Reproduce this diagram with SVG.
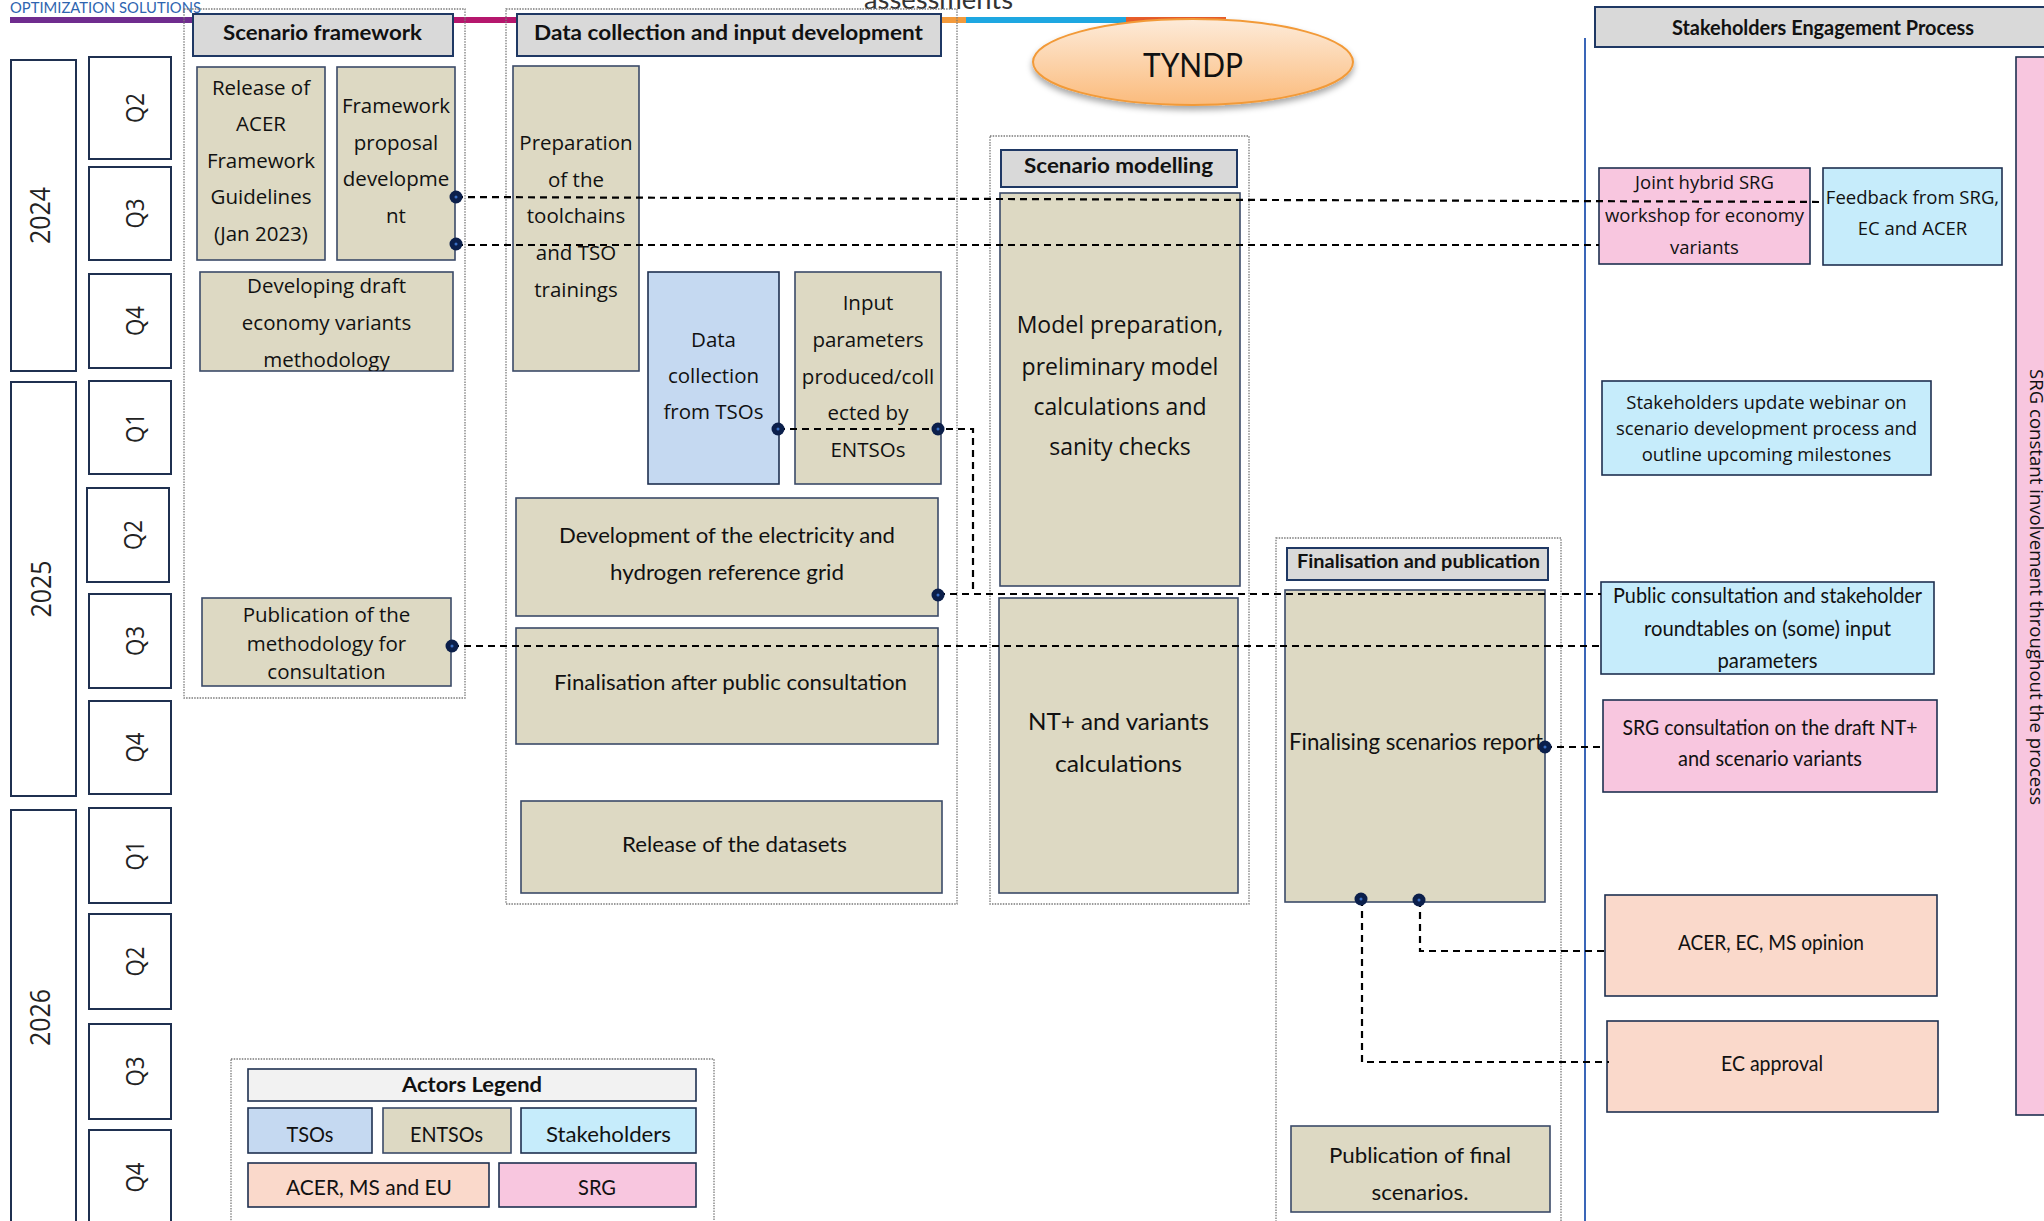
<svg xmlns="http://www.w3.org/2000/svg" width="2044" height="1221" viewBox="0 0 2044 1221">
<defs>
<style>
.yr{fill:#fff;stroke:#1f3050;stroke-width:2}
.tan{fill:#ddd9c3;stroke:#3b4a68;stroke-width:1.6}
.tso{fill:#c5d9f1;stroke:#1f3050;stroke-width:1.6}
.stk{fill:#c6ecfb;stroke:#1f3050;stroke-width:1.6}
.srg{fill:#f8c6df;stroke:#1f3050;stroke-width:1.6}
.acer{fill:#fad9cb;stroke:#1f3050;stroke-width:1.6}
.hdr{fill:#d9d9d9;stroke:#1f3864;stroke-width:2}
.cont{fill:none;stroke:#7a7a7a;stroke-width:1.3;stroke-dasharray:1.5 1.2}
.conn{fill:none;stroke:#000;stroke-width:2.2;stroke-dasharray:7 5}
.dot{fill:#0b1f4b}
.dotc{fill:#3a6fc4}
.os{font-family:'Open Sans','Noto Sans',sans-serif;fill:#111;text-anchor:middle}
.lt{font-family:Lato,'Open Sans',sans-serif;fill:#111;text-anchor:middle}
.b{font-weight:bold}
.yt{font-family:'Open Sans','Noto Sans',sans-serif;fill:#222;text-anchor:middle}
</style>
<linearGradient id="tyg" x1="0" y1="0" x2="0" y2="1">
<stop offset="0" stop-color="#fdebd9"/>
<stop offset="1" stop-color="#fbbb7c"/>
</linearGradient>
<filter id="sh" x="-20%" y="-30%" width="140%" height="170%">
<feDropShadow dx="0" dy="4" stdDeviation="3" flood-color="#000" flood-opacity="0.35"/>
</filter>
<clipPath id="clipDev"><rect x="200" y="272" width="253" height="99"/></clipPath>
</defs>
<rect width="2044" height="1221" fill="#fff"/>

<!-- top band -->
<g id="topband">
<text x="10" y="13" font-family="Lato,'Open Sans',sans-serif" font-size="15" fill="#2e64b0" textLength="191" lengthAdjust="spacingAndGlyphs">OPTIMIZATION SOLUTIONS</text>
<text x="864" y="9" font-family="Lato,'Open Sans',sans-serif" font-size="26" fill="#333" textLength="149" lengthAdjust="spacingAndGlyphs">assessments</text>
<rect x="10" y="17" width="320" height="6" fill="#6f2c8e"/>
<rect x="330" y="17" width="390" height="6" fill="#b5176d"/>
<rect x="720" y="17" width="246" height="6" fill="#f39a3b"/>
<rect x="966" y="17" width="160" height="6" fill="#1ea7e1"/>
<rect x="1126" y="17" width="100" height="6" fill="#e85d2a"/>
</g>

<!-- containers -->
<g id="containers">
<rect class="cont" x="184" y="9" width="281" height="689"/>
<rect class="cont" x="506" y="9" width="451" height="895"/>
<rect class="cont" x="990" y="136" width="259" height="768"/>
<rect class="cont" x="1276" y="538" width="285" height="690"/>
<rect class="cont" x="231" y="1059" width="483" height="170"/>
</g>

<line x1="1585" y1="38" x2="1585" y2="1221" stroke="#3a66b8" stroke-width="2"/>

<!-- timeline -->
<g id="year-2024"><rect class="yr" x="11" y="60" width="65" height="311"/><text class="yt" font-size="27" textLength="57" lengthAdjust="spacingAndGlyphs" transform="translate(50,215.5) rotate(-90)">2024</text></g>
<g id="year-2025"><rect class="yr" x="11" y="382" width="65" height="414"/><text class="yt" font-size="27" textLength="57" lengthAdjust="spacingAndGlyphs" transform="translate(51,589) rotate(-90)">2025</text></g>
<g id="year-2026"><rect class="yr" x="11" y="810" width="65" height="415"/><text class="yt" font-size="27" textLength="57" lengthAdjust="spacingAndGlyphs" transform="translate(50,1017.5) rotate(-90)">2026</text></g>

<g id="q-2024-2"><rect class="yr" x="89" y="57" width="82" height="102"/><text class="yt" font-size="25" textLength="30" lengthAdjust="spacingAndGlyphs" transform="translate(144,108) rotate(-90)">Q2</text></g>
<g id="q-2024-3"><rect class="yr" x="89" y="167" width="82" height="93"/><text class="yt" font-size="25" textLength="30" lengthAdjust="spacingAndGlyphs" transform="translate(144,213.5) rotate(-90)">Q3</text></g>
<g id="q-2024-4"><rect class="yr" x="89" y="274" width="82" height="94"/><text class="yt" font-size="25" textLength="30" lengthAdjust="spacingAndGlyphs" transform="translate(144,321) rotate(-90)">Q4</text></g>
<g id="q-2025-1"><rect class="yr" x="89" y="381" width="82" height="93"/><text class="yt" font-size="25" textLength="30" lengthAdjust="spacingAndGlyphs" transform="translate(144,428) rotate(-90)">Q1</text></g>
<g id="q-2025-2"><rect class="yr" x="87" y="488" width="82" height="94"/><text class="yt" font-size="25" textLength="30" lengthAdjust="spacingAndGlyphs" transform="translate(142,535) rotate(-90)">Q2</text></g>
<g id="q-2025-3"><rect class="yr" x="89" y="594" width="82" height="94"/><text class="yt" font-size="25" textLength="30" lengthAdjust="spacingAndGlyphs" transform="translate(144,641) rotate(-90)">Q3</text></g>
<g id="q-2025-4"><rect class="yr" x="89" y="701" width="82" height="93"/><text class="yt" font-size="25" textLength="30" lengthAdjust="spacingAndGlyphs" transform="translate(144,747.5) rotate(-90)">Q4</text></g>
<g id="q-2026-1"><rect class="yr" x="89" y="808" width="82" height="95"/><text class="yt" font-size="25" textLength="30" lengthAdjust="spacingAndGlyphs" transform="translate(144,855.5) rotate(-90)">Q1</text></g>
<g id="q-2026-2"><rect class="yr" x="89" y="914" width="82" height="95"/><text class="yt" font-size="25" textLength="30" lengthAdjust="spacingAndGlyphs" transform="translate(144,961.5) rotate(-90)">Q2</text></g>
<g id="q-2026-3"><rect class="yr" x="89" y="1024" width="82" height="95"/><text class="yt" font-size="25" textLength="30" lengthAdjust="spacingAndGlyphs" transform="translate(144,1071.5) rotate(-90)">Q3</text></g>
<g id="q-2026-4"><rect class="yr" x="89" y="1130" width="82" height="95"/><text class="yt" font-size="25" textLength="30" lengthAdjust="spacingAndGlyphs" transform="translate(144,1177.5) rotate(-90)">Q4</text></g>

<!-- headers -->
<g id="hdr-scenario-framework"><rect class="hdr" x="193" y="14" width="260" height="42"/><text class="lt b" x="322.5" y="40" font-size="21" textLength="199" lengthAdjust="spacingAndGlyphs">Scenario framework</text></g>
<g id="hdr-data-collection"><rect class="hdr" x="517" y="14" width="424" height="42"/><text class="lt b" x="728.5" y="40" font-size="21" textLength="389" lengthAdjust="spacingAndGlyphs">Data collection and input development</text></g>
<g id="hdr-scenario-modelling"><rect class="hdr" x="1001" y="150" width="236" height="37"/><text class="lt b" x="1118.5" y="173" font-size="21" textLength="189" lengthAdjust="spacingAndGlyphs">Scenario modelling</text></g>
<g id="hdr-finalisation"><rect class="hdr" x="1287" y="548" width="261" height="32"/><text class="lt b" x="1418.5" y="568" font-size="19" textLength="243" lengthAdjust="spacingAndGlyphs">Finalisation and publication</text></g>
<g id="hdr-stakeholders"><rect class="hdr" x="1595" y="7" width="455" height="40"/><text class="lt b" x="1823" y="35" font-size="20" textLength="302" lengthAdjust="spacingAndGlyphs">Stakeholders Engagement Process</text></g>

<!-- TYNDP -->
<g id="tyndp">
<ellipse cx="1193" cy="62" rx="160" ry="43" fill="url(#tyg)" stroke="#f29a38" stroke-width="2" filter="url(#sh)"/>
<text class="lt" x="1193" y="77" font-size="32" fill="#262626" textLength="100" lengthAdjust="spacingAndGlyphs">TYNDP</text>
</g>

<!-- scenario framework nodes -->
<g id="release-acer"><rect class="tan" x="197" y="67" width="128" height="193"/>
<text class="os" font-size="20.5"><tspan x="261" y="95">Release of</tspan><tspan x="261" y="131">ACER</tspan><tspan x="261" y="168">Framework</tspan><tspan x="261" y="204">Guidelines</tspan><tspan x="261" y="241">(Jan 2023)</tspan></text></g>
<g id="framework-proposal"><rect class="tan" x="337" y="67" width="118" height="193"/>
<text class="os" font-size="20.5"><tspan x="396" y="113">Framework</tspan><tspan x="396" y="150">proposal</tspan><tspan x="396" y="186">developme</tspan><tspan x="396" y="223">nt</tspan></text></g>
<g id="developing-draft"><rect class="tan" x="200" y="272" width="253" height="99"/>
<text class="os" font-size="20.5" clip-path="url(#clipDev)"><tspan x="326.5" y="293">Developing draft</tspan><tspan x="326.5" y="330">economy variants</tspan><tspan x="326.5" y="367">methodology</tspan></text></g>
<g id="publication-methodology"><rect class="tan" x="202" y="598" width="249" height="88"/>
<text class="os" font-size="20.5"><tspan x="326.5" y="622">Publication of the</tspan><tspan x="326.5" y="651">methodology for</tspan><tspan x="326.5" y="679">consultation</tspan></text></g>

<!-- data collection nodes -->
<g id="preparation"><rect class="tan" x="513" y="66" width="126" height="305"/>
<text class="os" font-size="20.5"><tspan x="576" y="150">Preparation</tspan><tspan x="576" y="187">of the</tspan><tspan x="576" y="223">toolchains</tspan><tspan x="576" y="260">and TSO</tspan><tspan x="576" y="297">trainings</tspan></text></g>
<g id="data-collection-tsos"><rect class="tso" x="648" y="272" width="131" height="212"/>
<text class="os" font-size="20.5"><tspan x="713.5" y="347">Data</tspan><tspan x="713.5" y="383">collection</tspan><tspan x="713.5" y="419">from TSOs</tspan></text></g>
<g id="input-parameters"><rect class="tan" x="795" y="272" width="146" height="212"/>
<text class="os" font-size="20.5"><tspan x="868" y="310">Input</tspan><tspan x="868" y="347">parameters</tspan><tspan x="868" y="384">produced/coll</tspan><tspan x="868" y="420">ected by</tspan><tspan x="868" y="457">ENTSOs</tspan></text></g>
<g id="reference-grid"><rect class="tan" x="516" y="498" width="422" height="118"/>
<text class="lt" font-size="21"><tspan x="727" y="543" textLength="336" lengthAdjust="spacingAndGlyphs">Development of the electricity and</tspan><tspan x="727" y="580" textLength="234" lengthAdjust="spacingAndGlyphs">hydrogen reference grid</tspan></text></g>
<g id="finalisation-public"><rect class="tan" x="516" y="628" width="422" height="116"/>
<text class="lt" x="730.5" y="690" font-size="21" textLength="353" lengthAdjust="spacingAndGlyphs">Finalisation after public consultation</text></g>
<g id="release-datasets"><rect class="tan" x="521" y="801" width="421" height="92"/>
<text class="lt" x="734.5" y="852" font-size="21" textLength="225" lengthAdjust="spacingAndGlyphs">Release of the datasets</text></g>

<!-- scenario modelling nodes -->
<g id="model-preparation"><rect class="tan" x="1000" y="193" width="240" height="393"/>
<text class="os" font-size="23"><tspan x="1120" y="333">Model preparation,</tspan><tspan x="1120" y="375">preliminary model</tspan><tspan x="1120" y="415">calculations and</tspan><tspan x="1120" y="455">sanity checks</tspan></text></g>
<g id="nt-variants"><rect class="tan" x="999" y="598" width="239" height="295"/>
<text class="lt" font-size="24"><tspan x="1118.5" y="730" textLength="181" lengthAdjust="spacingAndGlyphs">NT+ and variants</tspan><tspan x="1118.5" y="772" textLength="127" lengthAdjust="spacingAndGlyphs">calculations</tspan></text></g>

<!-- finalisation nodes -->
<g id="finalising-report"><rect class="tan" x="1285" y="590" width="260" height="312"/>
<text class="lt" x="1289" y="750" font-size="23" style="text-anchor:start" textLength="254" lengthAdjust="spacingAndGlyphs">Finalising scenarios report</text></g>
<g id="publication-final"><rect class="tan" x="1291" y="1126" width="259" height="86"/>
<text class="lt" font-size="22"><tspan x="1420" y="1163" textLength="182" lengthAdjust="spacingAndGlyphs">Publication of final</tspan><tspan x="1420" y="1200" textLength="97" lengthAdjust="spacingAndGlyphs">scenarios.</tspan></text></g>

<!-- stakeholder nodes -->
<g id="joint-hybrid-srg"><rect class="srg" x="1599" y="168" width="211" height="96"/>
<text class="os" font-size="18.5"><tspan x="1704.5" y="189">Joint hybrid SRG</tspan><tspan x="1704.5" y="221.5">workshop for economy</tspan><tspan x="1704.5" y="254">variants</tspan></text></g>
<g id="feedback"><rect class="stk" x="1823" y="168" width="179" height="97"/>
<text class="os" font-size="18.5"><tspan x="1912.5" y="204">Feedback from SRG,</tspan><tspan x="1912.5" y="235">EC and ACER</tspan></text></g>
<g id="update-webinar"><rect class="stk" x="1602" y="381" width="329" height="94"/>
<text class="os" font-size="18.5"><tspan x="1766.5" y="409">Stakeholders update webinar on</tspan><tspan x="1766.5" y="435">scenario development process and</tspan><tspan x="1766.5" y="461">outline upcoming milestones</tspan></text></g>
<g id="public-consultation"><rect class="stk" x="1601" y="582" width="333" height="92"/>
<text class="lt" font-size="21"><tspan x="1767.5" y="603" textLength="309" lengthAdjust="spacingAndGlyphs">Public consultation and stakeholder</tspan><tspan x="1767.5" y="636" textLength="247" lengthAdjust="spacingAndGlyphs">roundtables on (some) input</tspan><tspan x="1767.5" y="668" textLength="100" lengthAdjust="spacingAndGlyphs">parameters</tspan></text></g>
<g id="srg-consultation"><rect class="srg" x="1603" y="700" width="334" height="92"/>
<text class="lt" font-size="21"><tspan x="1770" y="735" textLength="295" lengthAdjust="spacingAndGlyphs">SRG consultation on the draft NT+</tspan><tspan x="1770" y="766" textLength="184" lengthAdjust="spacingAndGlyphs">and scenario variants</tspan></text></g>
<g id="acer-opinion"><rect class="acer" x="1605" y="895" width="332" height="101"/>
<text class="lt" x="1771" y="950" font-size="21" textLength="186" lengthAdjust="spacingAndGlyphs">ACER, EC, MS opinion</text></g>
<g id="ec-approval"><rect class="acer" x="1607" y="1021" width="331" height="91"/>
<text class="lt" x="1772" y="1071" font-size="21" textLength="102" lengthAdjust="spacingAndGlyphs">EC approval</text></g>
<g id="srg-constant"><rect class="srg" x="2016" y="57" width="40" height="1058"/>
<text class="os" font-size="18.5" textLength="436" lengthAdjust="spacingAndGlyphs" transform="translate(2030,587) rotate(90)">SRG constant involvement throughout the process</text></g>

<!-- legend -->
<g id="legend">
<rect x="248" y="1069" width="448" height="32" fill="#f2f2f2" stroke="#1f3050" stroke-width="1.6"/>
<text class="lt b" x="472" y="1092" font-size="21" textLength="140" lengthAdjust="spacingAndGlyphs">Actors Legend</text>
<rect class="tso" x="248" y="1108" width="124" height="45"/>
<text class="lt" x="310" y="1142" font-size="22" textLength="47" lengthAdjust="spacingAndGlyphs">TSOs</text>
<rect class="tan" x="383" y="1108" width="128" height="45"/>
<text class="lt" x="446.5" y="1142" font-size="22" textLength="73" lengthAdjust="spacingAndGlyphs">ENTSOs</text>
<rect class="stk" x="521" y="1108" width="175" height="45"/>
<text class="lt" x="608.5" y="1142" font-size="22" textLength="125" lengthAdjust="spacingAndGlyphs">Stakeholders</text>
<rect class="acer" x="248" y="1163" width="241" height="44"/>
<text class="lt" x="369" y="1195" font-size="22" textLength="166" lengthAdjust="spacingAndGlyphs">ACER, MS and EU</text>
<rect class="srg" x="499" y="1163" width="197" height="44"/>
<text class="lt" x="597" y="1195" font-size="22" textLength="38" lengthAdjust="spacingAndGlyphs">SRG</text>
</g>

<!-- connectors -->
<g id="connectors">
<path class="conn" d="M456,197 L1823,202"/>
<path class="conn" d="M456,245 H1599"/>
<path class="conn" d="M778,429 H973 V594"/>
<path class="conn" d="M938,594 H1601"/>
<path class="conn" d="M452,646 H1599"/>
<path class="conn" d="M1545,747 H1603"/>
<path class="conn" d="M1420,900 V951 H1608"/>
<path class="conn" d="M1362,899 V1062 H1609"/>
<g id="dots">
<circle class="dot" cx="456" cy="197" r="6.5"/><circle class="dotc" cx="456" cy="197" r="1.5"/>
<circle class="dot" cx="456" cy="244" r="6.5"/><circle class="dotc" cx="456" cy="244" r="1.5"/>
<circle class="dot" cx="778" cy="429" r="6.5"/><circle class="dotc" cx="778" cy="429" r="1.5"/>
<circle class="dot" cx="938" cy="429" r="6.5"/><circle class="dotc" cx="938" cy="429" r="1.5"/>
<circle class="dot" cx="938" cy="595" r="6.5"/><circle class="dotc" cx="938" cy="595" r="1.5"/>
<circle class="dot" cx="452" cy="646" r="6.5"/><circle class="dotc" cx="452" cy="646" r="1.5"/>
<circle class="dot" cx="1545" cy="747" r="6.5"/><circle class="dotc" cx="1545" cy="747" r="1.5"/>
<circle class="dot" cx="1361" cy="899" r="6.5"/><circle class="dotc" cx="1361" cy="899" r="1.5"/>
<circle class="dot" cx="1419" cy="900" r="6.5"/><circle class="dotc" cx="1419" cy="900" r="1.5"/>
</g>
</g>
</svg>
